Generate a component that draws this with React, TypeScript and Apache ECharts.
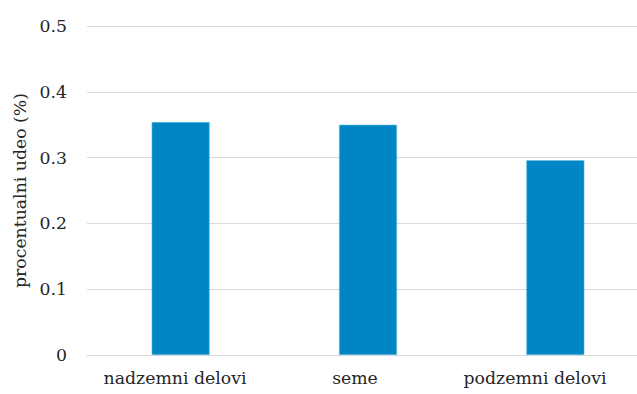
import React, { useEffect, useRef } from "react";
import * as echarts from "echarts";

const categories = ["nadzemni delovi", "seme", "podzemni delovi"];
const values = [0.354, 0.35, 0.296];
const yTicks = { min: 0, max: 0.5, interval: 0.1 };
const yAxisTitle = "procentualni udeo (%)";

const FONT = "DejaVu Serif";
const TEXT = "#262626";
const GRID_LINE = "#d9d9d9";

export default function App() {
  const ref = useRef<HTMLDivElement>(null);

  useEffect(() => {
    if (!ref.current) return;
    const chart = echarts.init(ref.current, null, { renderer: "svg" });
    chart.setOption({
      animation: false,
      backgroundColor: "#ffffff",
      grid: [
        // plot area holding the bars
        { left: 87, right: 1, top: 26, bottom: 39, containLabel: false },
        // band used only to place the category labels
        { left: 85, width: 540, top: 26, bottom: 39, containLabel: false },
      ],
      xAxis: [
        {
          type: "category",
          gridIndex: 0,
          data: categories,
          axisLine: { show: true, lineStyle: { color: GRID_LINE, width: 1 } },
          axisTick: { show: false },
          axisLabel: { show: false },
        },
        {
          type: "category",
          gridIndex: 1,
          data: categories,
          axisLine: { show: false },
          axisTick: { show: false },
          axisLabel: {
            color: TEXT,
            fontFamily: FONT,
            fontSize: 17.3,
            margin: 14,
            interval: 0,
          },
        },
      ],
      yAxis: [
        {
          type: "value",
          gridIndex: 0,
          min: yTicks.min,
          max: yTicks.max,
          interval: yTicks.interval,
          name: yAxisTitle,
          nameLocation: "middle",
          nameGap: 50,
          nameRotate: 90,
          nameTextStyle: { color: TEXT, fontFamily: FONT, fontSize: 17.3 },
          axisLine: { show: false },
          axisTick: { show: false },
          axisLabel: {
            color: TEXT,
            fontFamily: FONT,
            fontSize: 17.3,
            margin: 20,
            formatter: (v: number) => (v === 0 ? "0" : v.toFixed(1)),
          },
          splitLine: { show: true, lineStyle: { color: GRID_LINE, width: 1 } },
        },
        {
          type: "value",
          gridIndex: 1,
          min: yTicks.min,
          max: yTicks.max,
          interval: yTicks.interval,
          show: false,
          splitLine: { show: false },
        },
      ],
      series: [
        {
          type: "bar",
          xAxisIndex: 0,
          yAxisIndex: 0,
          data: values,
          barWidth: 58,
          itemStyle: { color: "#0086c4", borderColor: "#6cc0e8", borderWidth: 0.6 },
        },
      ],
    });
    return () => chart.dispose();
  }, []);

  return (
    <div
      style={{
        position: "fixed",
        left: 0,
        top: 0,
        width: 637,
        height: 394,
        overflow: "hidden",
        background: "#ffffff",
      }}
    >
      <div ref={ref} style={{ width: 650, height: 394 }} />
    </div>
  );
}
